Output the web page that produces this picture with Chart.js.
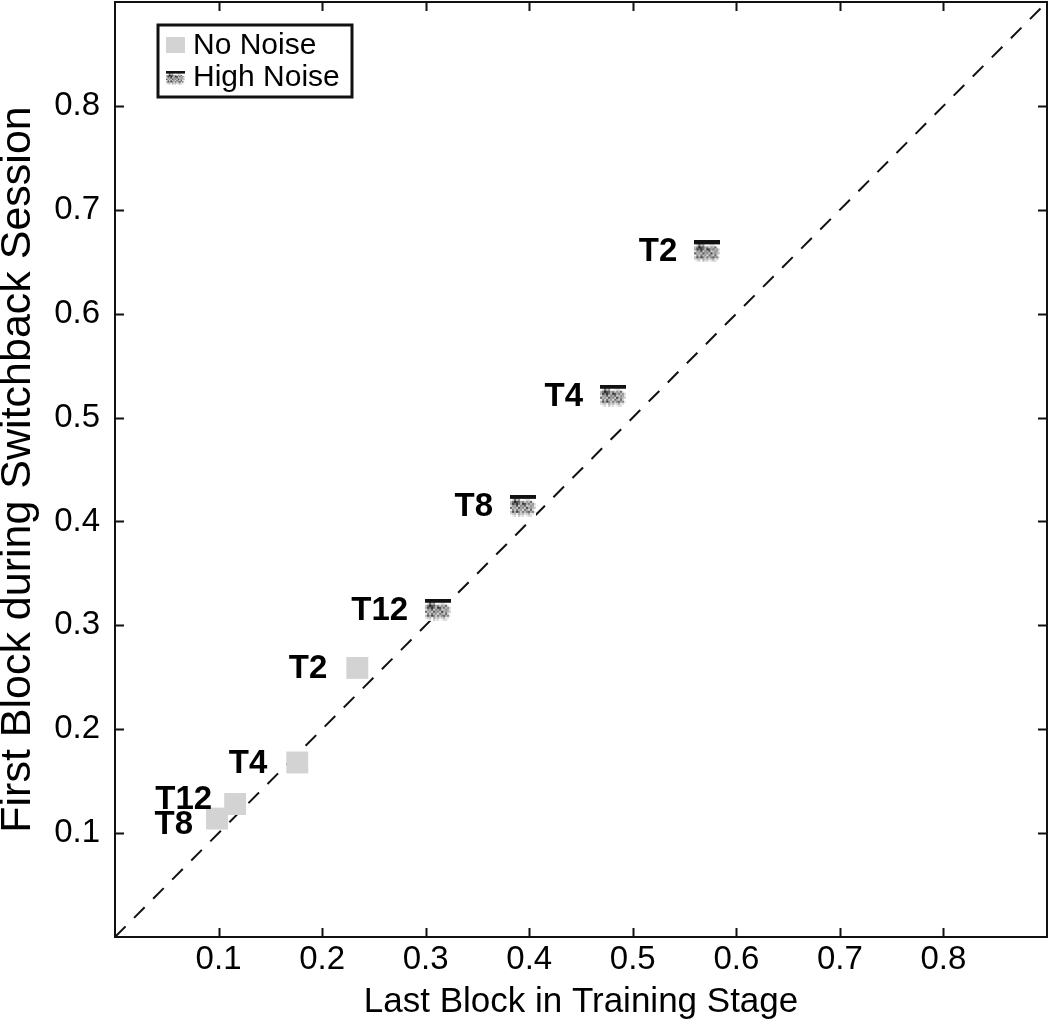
<!DOCTYPE html>
<html>
<head>
<meta charset="utf-8">
<script src="https://cdn.jsdelivr.net/npm/chart.js@4.4.1/dist/chart.umd.min.js"></script>
<style>
  html, body { margin: 0; padding: 0; background: #fff; }
  canvas { display: block; }
</style>
</head>
<body>
<canvas id="switchbackChart" width="1050" height="1029"></canvas>
<script>
// values
const axisRange = [0, 0.9];
const xTicks = [0.1, 0.2, 0.3, 0.4, 0.5, 0.6, 0.7, 0.8];
const yTicks = [0.1, 0.2, 0.3, 0.4, 0.5, 0.6, 0.7, 0.8];

const noNoiseLabels = ["T2", "T4", "T8", "T12"];
const noNoiseX = [0.234, 0.176, 0.0985, 0.116];
const noNoiseY = [0.259, 0.168, 0.114, 0.128];

const highNoiseLabels = ["T2", "T4", "T8", "T12"];
const highNoiseX = [0.572, 0.481, 0.394, 0.312];
const highNoiseY = [0.660, 0.521, 0.415, 0.315];

const seriesNames = ["No Noise", "High Noise"];

const FONT = "'Liberation Sans', Arial, Helvetica, sans-serif";
const NO_NOISE_GRAY = "#d3d3d3";

// grey texture of the "High Noise" marker (hex grey level per 2px cell)
const noiseTexture = [
  "1111111111111",
  "1111111111111",
  "fd6c9ffeddfff",
  "b7256a8c9b6ef",
  "a4737b35a7b9d",
  "d9a5c8a6cb9ae",
  "6b9c5a8c4a9bc",
  "e8c7b9d7ac6df",
  "b5a48c7b86a8e",
  "dcbeacbdcaedf",
  "fedfcedfeddff",
];

function makeNoiseMarker(cell) {
  const c = document.createElement("canvas");
  c.width = noiseTexture[0].length * cell;
  c.height = noiseTexture.length * cell;
  const g = c.getContext("2d");
  noiseTexture.forEach((row, r) => {
    [...row].forEach((ch, k) => {
      const v = Math.round(parseInt(ch, 16) * 17);
      g.fillStyle = `rgb(${v},${v},${v})`;
      g.fillRect(k * cell, r * cell, cell, cell);
    });
  });
  return c;
}
const noiseMarker = makeNoiseMarker(2);

const toPoints = (xs, ys) => xs.map((x, i) => ({ x, y: ys[i] }));

// label placement tweaks for the crowded lower-left pair
const labelNudge = { "0-T8": [6, 5], "0-T12": [7, -5] };

const pointLabelPlugin = {
  id: "pointLabels",
  afterDatasetsDraw(chart) {
    const ctx = chart.ctx;
    ctx.save();
    ctx.font = `bold 33px ${FONT}`;
    ctx.fillStyle = "#000";
    ctx.textAlign = "right";
    ctx.textBaseline = "middle";
    [0, 1].forEach((di) => {
      const labels = chart.data.datasets[di].pointLabels;
      chart.getDatasetMeta(di).data.forEach((pt, i) => {
        const nudge = labelNudge[`${di}-${labels[i]}`] || [0, 0];
        ctx.fillText(labels[i], pt.x - 30 + nudge[0], pt.y + 1 + nudge[1]);
      });
    });
    ctx.restore();
  },
};

const framePlugin = {
  id: "frame",
  afterDraw(chart) {
    const { ctx, chartArea: a, scales } = chart;
    ctx.save();
    ctx.strokeStyle = "#111";
    ctx.lineWidth = 2;
    ctx.strokeRect(a.left, a.top, a.right - a.left, a.bottom - a.top);
    ctx.beginPath();
    xTicks.forEach((v) => {
      const px = Math.round(scales.x.getPixelForValue(v)) + 0.5;
      ctx.moveTo(px, a.bottom); ctx.lineTo(px, a.bottom - 9);
      ctx.moveTo(px, a.top); ctx.lineTo(px, a.top + 9);
    });
    yTicks.forEach((v) => {
      const py = Math.round(scales.y.getPixelForValue(v)) + 0.5;
      ctx.moveTo(a.left, py); ctx.lineTo(a.left + 9, py);
      ctx.moveTo(a.right, py); ctx.lineTo(a.right - 9, py);
    });
    ctx.stroke();

    // legend box in the upper left corner
    const lx = a.left + 43, ly = a.top + 23, lw = 194, lh = 72;
    ctx.fillStyle = "#fff";
    ctx.fillRect(lx, ly, lw, lh);
    ctx.lineWidth = 3;
    ctx.strokeStyle = "#111";
    ctx.strokeRect(lx, ly, lw, lh);
    ctx.fillStyle = NO_NOISE_GRAY;
    ctx.fillRect(lx + 8, ly + 12, 19, 16);
    ctx.drawImage(noiseMarker, lx + 8, ly + 46, 19, 14);
    ctx.fillStyle = "#000";
    ctx.font = `30px ${FONT}`;
    ctx.textAlign = "left";
    ctx.textBaseline = "alphabetic";
    ctx.fillText(seriesNames[0], lx + 35, ly + 29);
    ctx.fillText(seriesNames[1], lx + 35, ly + 61);
    ctx.restore();
  },
};

const noPadding = (s) => {
  s.paddingTop = 0; s.paddingBottom = 0; s.paddingLeft = 0; s.paddingRight = 0;
};

const ctx = document.getElementById("switchbackChart").getContext("2d");

new Chart(ctx, {
  type: "scatter",
  data: {
    datasets: [
      {
        label: seriesNames[0],
        pointLabels: noNoiseLabels,
        data: toPoints(noNoiseX, noNoiseY),
        pointStyle: "rect",
        pointRadius: 15.5,
        backgroundColor: NO_NOISE_GRAY,
        borderWidth: 0,
      },
      {
        label: seriesNames[1],
        pointLabels: highNoiseLabels,
        data: toPoints(highNoiseX, highNoiseY),
        pointStyle: noiseMarker,
        pointRadius: 12,
      },
      {
        label: "diagonal",
        data: toPoints(axisRange, axisRange),
        showLine: true,
        pointRadius: 0,
        borderColor: "#111",
        borderWidth: 2,
        borderDash: [15, 12],
      },
    ],
  },
  options: {
    responsive: false,
    animation: false,
    events: [],
    layout: { autoPadding: false, padding: { top: 2, right: 3, left: 0, bottom: 0 } },
    plugins: {
      legend: { display: false },
      tooltip: { enabled: false },
    },
    scales: {
      x: {
        type: "linear",
        min: axisRange[0],
        max: axisRange[1],
        afterBuildTicks: (s) => { s.ticks = xTicks.map((v) => ({ value: v })); },
        afterFit: (s) => { s.height = 92; noPadding(s); },
        grid: { display: false, drawTicks: false },
        border: { display: false },
        ticks: {
          color: "#000",
          padding: 3,
          maxRotation: 0,
          font: { family: FONT, size: 33 },
          callback: (v) => v.toFixed(1),
        },
        title: {
          display: true,
          text: "Last Block in Training Stage",
          color: "#000",
          padding: { top: 0, bottom: 6 },
          font: { family: FONT, size: 35 },
        },
      },
      y: {
        type: "linear",
        min: axisRange[0],
        max: axisRange[1],
        afterBuildTicks: (s) => { s.ticks = yTicks.map((v) => ({ value: v })); },
        afterFit: (s) => { s.width = 115; noPadding(s); },
        grid: { display: false, drawTicks: false },
        border: { display: false },
        ticks: {
          color: "#000",
          padding: 15,
          font: { family: FONT, size: 33 },
          callback: (v) => v.toFixed(1),
        },
        title: {
          display: true,
          text: "First Block during Switchback Session",
          color: "#000",
          padding: 0,
          font: { family: FONT, size: 43, lineHeight: 0.85 },
        },
      },
    },
  },
  plugins: [pointLabelPlugin, framePlugin],
});
</script>
</body>
</html>
